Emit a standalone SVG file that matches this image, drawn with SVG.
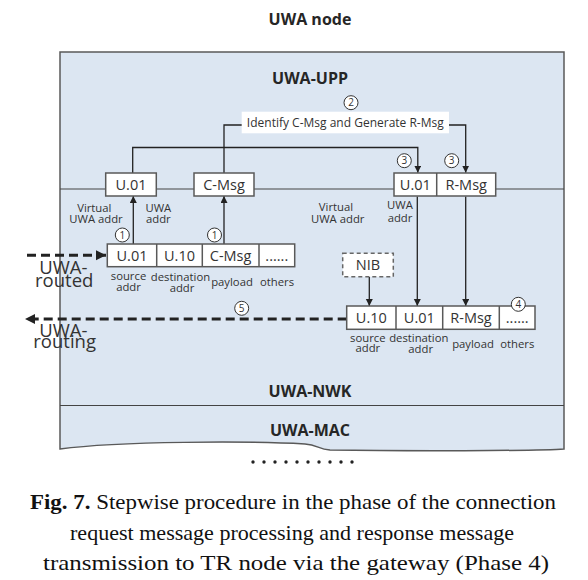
<svg xmlns="http://www.w3.org/2000/svg" width="588" height="580" viewBox="0 0 588 580">
<defs>
<style>
.ttl{font-family:"Open Sans","Noto Sans",sans-serif;font-weight:bold;font-size:16px;fill:#262626;text-anchor:middle}
.box{fill:#fff;stroke:#595959;stroke-width:1.5}
.bt{font-family:"Open Sans","Noto Sans",sans-serif;font-size:14.5px;fill:#333;text-anchor:middle}
.lbl{font-family:"Open Sans","Noto Sans",sans-serif;font-size:11.3px;fill:#333;text-anchor:middle}
.big{font-family:"Open Sans","Noto Sans",sans-serif;font-size:18.5px;fill:#333}
.num circle{fill:#fff;stroke:#333;stroke-width:1}
.num text{font-family:"Open Sans","Noto Sans",sans-serif;font-size:10px;fill:#333;text-anchor:middle}
.conn{stroke:#222;stroke-width:1.3;fill:none}
.dash{stroke:#222;stroke-width:3;stroke-dasharray:9 5;fill:none}
.sep{stroke:#444;stroke-width:1.2;fill:none}
.cap{font-family:"Liberation Serif","Times New Roman",serif;font-size:21.5px;fill:#111}
</style>
<marker id="ah" markerUnits="userSpaceOnUse" markerWidth="8" markerHeight="8" refX="7" refY="3.5" orient="auto">
<path d="M0,0 L7,3.5 L0,7 z" fill="#222"/>
</marker>
<marker id="bh" markerUnits="userSpaceOnUse" markerWidth="11" markerHeight="11" refX="10" refY="5" orient="auto">
<path d="M0,0 L10,5 L0,10 z" fill="#222"/>
</marker>
</defs>
<rect width="588" height="580" fill="#fff"/>
<text class="ttl" x="310" y="25">UWA node</text>
<g id="uwa-node">
<path d="M60,52 H564 V449 C540,451 400,451 330,450 C318,449 318,445 305,444 C250,441 120,441 60,449 Z" fill="#dce6f2" stroke="#595959" stroke-width="1.5"/>
<line class="sep" x1="60" y1="189" x2="564" y2="189"/>
<line class="sep" x1="60" y1="405.5" x2="564" y2="405.5"/>
<text class="ttl" x="310" y="84">UWA-UPP</text>
<text class="ttl" x="310" y="397">UWA-NWK</text>
<text class="ttl" x="310" y="436">UWA-MAC</text>
</g>
<g id="connectors">
<path class="conn" d="M132.7,173 V147.5 H417.8 V172.7" marker-end="url(#ah)"/>
<path class="conn" d="M224,173 V125 H242"/>
<path class="conn" d="M449,125 H465.7 V172.7" marker-end="url(#ah)"/>
<path class="conn" d="M133.3,244 V196" marker-end="url(#ah)"/>
<path class="conn" d="M224,244 V196" marker-end="url(#ah)"/>
<path class="conn" d="M417.3,196.5 V306" marker-end="url(#ah)"/>
<path class="conn" d="M465.7,196.5 V306" stroke="#444" marker-end="url(#ah)"/>
<path class="conn" d="M369.3,276.7 V306" marker-end="url(#ah)"/>
<path class="dash" d="M27,255.3 H106" marker-end="url(#bh)"/>
<path class="dash" d="M346.7,319 H25" marker-end="url(#bh)"/>
</g>
<g id="identify">
<rect x="241.7" y="111.7" width="207.3" height="21.6" fill="#fff"/>
<text x="345.3" y="127.3" font-family="Open Sans, Noto Sans, sans-serif" font-size="12" fill="#333" text-anchor="middle">Identify C-Msg and Generate  R-Msg</text>
</g>
<g id="upp-u01">
<rect class="box" x="105.7" y="173" width="50.6" height="23"/>
<text class="bt" x="131" y="189.7">U.01</text>
</g>
<g id="upp-cmsg">
<rect class="box" x="194" y="173" width="60" height="23"/>
<text class="bt" x="224" y="189.7">C-Msg</text>
</g>
<g id="upp-reply">
<rect class="box" x="394" y="173" width="101.7" height="23"/>
<line x1="436.7" y1="173" x2="436.7" y2="196" stroke="#595959" stroke-width="1.5"/>
<text class="bt" x="415.3" y="189.7">U.01</text>
<text class="bt" x="466.2" y="189.7">R-Msg</text>
</g>
<g id="packet-in">
<rect class="box" x="107.3" y="244" width="187.4" height="22.7"/>
<line x1="156.7" y1="244" x2="156.7" y2="266.7" stroke="#595959" stroke-width="1.5"/>
<line x1="202.3" y1="244" x2="202.3" y2="266.7" stroke="#595959" stroke-width="1.5"/>
<line x1="259" y1="244" x2="259" y2="266.7" stroke="#595959" stroke-width="1.5"/>
<text class="bt" x="132" y="260.5">U.01</text>
<text class="bt" x="179.5" y="260.5">U.10</text>
<text class="bt" x="230.6" y="260.5">C-Msg</text>
<text class="bt" x="276.8" y="260.5" font-size="11">......</text>
<text class="lbl" x="128.5" y="280">source</text>
<text class="lbl" x="128.5" y="290.7">addr</text>
<text class="lbl" x="180.5" y="281">destination</text>
<text class="lbl" x="182" y="291.7">addr</text>
<text class="lbl" x="232" y="285.7">payload</text>
<text class="lbl" x="277" y="285.7">others</text>
</g>
<g id="nib">
<rect x="342.7" y="253.3" width="50.6" height="23.4" fill="#fff" stroke="#666" stroke-width="1.5" stroke-dasharray="4 3"/>
<text class="bt" x="368" y="270">NIB</text>
</g>
<g id="packet-out">
<rect class="box" x="346.7" y="306" width="188.3" height="23.3"/>
<line x1="396" y1="306" x2="396" y2="329.3" stroke="#595959" stroke-width="1.5"/>
<line x1="442.7" y1="306" x2="442.7" y2="329.3" stroke="#595959" stroke-width="1.5"/>
<line x1="499.3" y1="306" x2="499.3" y2="329.3" stroke="#595959" stroke-width="1.5"/>
<text class="bt" x="371.3" y="323">U.10</text>
<text class="bt" x="419.3" y="323">U.01</text>
<text class="bt" x="471" y="323">R-Msg</text>
<text class="bt" x="517.2" y="323" font-size="11">......</text>
<text class="lbl" x="367.8" y="341.7">source</text>
<text class="lbl" x="367.8" y="352">addr</text>
<text class="lbl" x="418.8" y="342.3">destination</text>
<text class="lbl" x="420.7" y="353.3">addr</text>
<text class="lbl" x="473" y="347.7">payload</text>
<text class="lbl" x="517.3" y="347.7">others</text>
</g>
<g id="addr-labels">
<text class="lbl" x="94.3" y="211.7">Virtual</text>
<text class="lbl" x="96" y="223.3">UWA  addr</text>
<text class="lbl" x="158.3" y="211.7">UWA</text>
<text class="lbl" x="158.3" y="222.7">addr</text>
<text class="lbl" x="336" y="210.7">Virtual</text>
<text class="lbl" x="337.7" y="223.3">UWA  addr</text>
<text class="lbl" x="400" y="209">UWA</text>
<text class="lbl" x="400" y="222">addr</text>
</g>
<g id="steps" class="num">
<circle cx="122.3" cy="235" r="7"/><text x="122.3" y="238.6">1</text>
<circle cx="214.5" cy="235" r="7"/><text x="214.5" y="238.6">1</text>
<circle cx="351" cy="102.7" r="7"/><text x="351" y="106.3">2</text>
<circle cx="404.3" cy="160.7" r="7"/><text x="404.3" y="164.3">3</text>
<circle cx="451.7" cy="160.7" r="7"/><text x="451.7" y="164.3">3</text>
<circle cx="518.3" cy="304.3" r="7"/><text x="518.3" y="307.9">4</text>
<circle cx="241.7" cy="308.3" r="7"/><text x="241.7" y="311.9">5</text>
</g>
<g id="routed-label">
<text class="big" x="39.3" y="274">UWA-</text>
<text class="big" x="35" y="286.7">routed</text>
</g>
<g id="routing-label">
<text class="big" x="39.3" y="337.3">UWA-</text>
<text class="big" x="33.3" y="348.3">routing</text>
</g>
<g id="dots" fill="#222">
<circle cx="253" cy="462" r="1.7"/><circle cx="264" cy="462" r="1.7"/><circle cx="275" cy="462" r="1.7"/><circle cx="286" cy="462" r="1.7"/><circle cx="297" cy="462" r="1.7"/><circle cx="308" cy="462" r="1.7"/><circle cx="319" cy="462" r="1.7"/><circle cx="330" cy="462" r="1.7"/><circle cx="341" cy="462" r="1.7"/><circle cx="352" cy="462" r="1.7"/>
</g>
<g id="caption" class="cap">
<text x="30" y="509" textLength="526" lengthAdjust="spacingAndGlyphs"><tspan font-weight="bold">Fig. 7.</tspan> Stepwise procedure in the phase of the connection</text>
<text x="70" y="540" textLength="444" lengthAdjust="spacingAndGlyphs">request message processing and response message</text>
<text x="43" y="570" textLength="506" lengthAdjust="spacingAndGlyphs">transmission to TR node via the gateway (Phase 4)</text>
</g>
</svg>
